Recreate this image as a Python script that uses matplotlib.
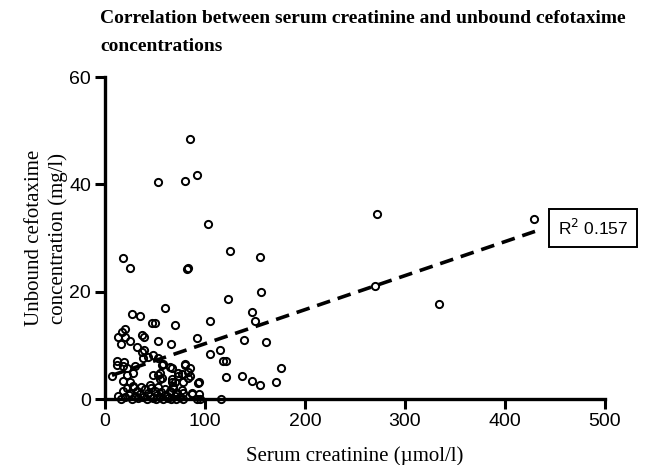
import matplotlib
matplotlib.use("Agg")
import matplotlib.pyplot as plt
import numpy as np

# ---- data ----
creatinine = [
    85, 53, 80, 92, 103,
    272, 270, 429, 334,
    124.7, 155.3, 122.7, 156.3, 147.3, 150, 105, 139, 161, 115, 105, 118, 120.7, 176, 121, 137, 147, 154.7, 171, 116,
    91.7, 82, 82.5, 85, 94, 87, 94, 92, 85,
    60, 50, 70,
    17.7, 25, 26.7, 35, 46.7, 20,
    13, 16.7, 20, 25, 15.7, 36.7, 39, 53, 66,
    31.7, 36.7, 39, 38, 43, 48, 53, 58, 12, 18, 21.7, 30,
    6.7, 21.7, 28, 18, 25, 28, 48, 53, 57, 67, 80, 77, 73, 67, 70, 45, 83, 83, 93, 78, 87,
    56.7, 65, 80, 73, 55, 55, 66.7, 68, 78, 72, 60, 95, 11.7, 19,
    13, 16, 18, 20, 22, 24, 25, 27, 28, 30, 32, 33, 35, 36, 38, 40, 42, 43, 45, 46,
    48, 50, 51, 52, 53, 55, 56, 58, 60, 62, 63, 65, 66, 68, 70, 71, 72, 75, 77, 78,
]
cefotaxime = [
    48.5, 40.4, 40.6, 41.7, 32.6,
    34.5, 21.1, 33.5, 17.7,
    27.6, 26.5, 18.6, 19.9, 16.2, 14.5, 14.5, 11.0, 10.6, 9.2, 8.4, 7.0, 7.0, 5.8, 4.1, 4.2, 3.3, 2.7, 3.2, 0.0,
    11.4, 24.2, 24.5, 4.2, 3.1, 1.2, 0.9, 0.0, 5.8,
    16.9, 14.2, 13.8,
    26.3, 24.5, 15.8, 15.5, 14.2, 13.0,
    11.6, 12.5, 11.5, 10.9, 10.2, 11.9, 11.6, 10.9, 10.3,
    9.7, 8.8, 9.1, 7.6, 7.9, 8.2, 7.6, 6.6, 6.4, 6.1, 5.8, 6.1,
    4.3, 4.5, 4.8, 3.4, 3.1, 2.5, 4.5, 4.5, 3.9, 5.7, 6.3, 4.7, 4.2, 3.2, 3.2, 2.7, 5.1, 3.9, 3.0, 1.2, 1.0,
    6.3, 6.0, 6.6, 4.8, 4.8, 3.8, 3.8, 2.5, 3.2, 1.1, 0.8, 0.0, 7.1, 6.9,
    0.5, 0.0, 1.5, 0.3, 2.0, 0.8, 1.2, 0.0, 2.2, 0.5, 1.5, 0.2, 1.0, 2.3, 0.4, 1.8, 0.0, 1.2, 0.6, 2.0,
    0.2, 1.5, 0.0, 0.8, 2.2, 0.4, 1.3, 0.0, 1.8, 0.6, 0.2, 1.4, 0.0, 2.0, 0.5, 0.0, 1.0, 0.3, 1.6, 0.0,
]
fit_slope = 0.0634
fit_intercept = 3.97
fit_x_range = [7, 430]
r_squared = 0.157
x_ticks = [0, 100, 200, 300, 400, 500]
y_ticks = [0, 20, 40, 60]

title = "Correlation between serum creatinine and unbound cefotaxime\nconcentrations"
x_label = "Serum creatinine (\u00b5mol/l)"
y_label = "Unbound cefotaxime\nconcentration (mg/l)"

# ---- figure ----
fig = plt.figure(figsize=(6.46, 4.65), dpi=100)
ax = fig.add_axes([105 / 646, 66 / 465, 500 / 646, 322 / 465])

ax.plot(creatinine, cefotaxime, linestyle="none", marker="o", markersize=5.2,
        markerfacecolor="none", markeredgecolor="black", markeredgewidth=1.4,
        clip_on=False, zorder=3)

fx = np.array(fit_x_range, dtype=float)
ax.plot(fx, fit_slope * fx + fit_intercept, color="black", linewidth=2.6,
        linestyle=(0, (3.8, 2.2)), zorder=4)

ax.set_xlim(0, 500)
ax.set_ylim(0, 60)
ax.set_xticks(x_ticks)
ax.set_yticks(y_ticks)
for s in ("top", "right"):
    ax.spines[s].set_visible(False)
for s in ("left", "bottom"):
    ax.spines[s].set_linewidth(2.4)
ax.tick_params(axis="both", direction="out", length=7, width=2.2,
               labelsize=14, pad=3)
for lab in ax.get_xticklabels() + ax.get_yticklabels():
    lab.set_fontfamily("Liberation Sans")

ax.set_xlabel(x_label, fontfamily="Liberation Serif", fontsize=15, labelpad=12)
ax.set_ylabel(y_label, fontfamily="Liberation Serif", fontsize=15, labelpad=1,
              linespacing=1.25)

fig.text(100 / 646, 1 - 10 / 465, title, ha="left", va="top",
         fontfamily="Liberation Serif", fontweight="bold", fontsize=14,
         linespacing=1.85)

ax.text(0.906, 0.531, f"R$^2$ {r_squared:.3f}",
        transform=ax.transAxes, ha="left", va="center",
        fontfamily="Liberation Sans", fontsize=12.5,
        bbox=dict(boxstyle="square,pad=0.5", facecolor="white",
                  edgecolor="black", linewidth=1.4))

fig.savefig("out.png", dpi=100)
